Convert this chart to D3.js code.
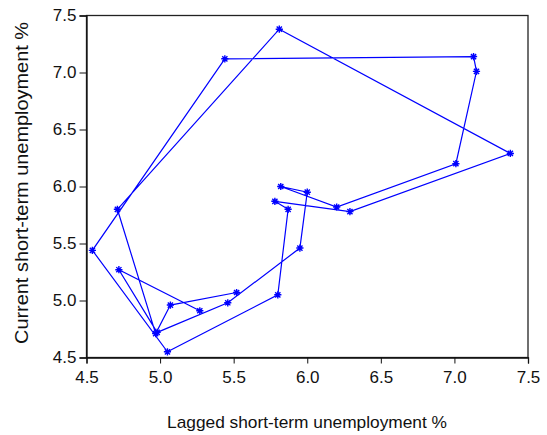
<!DOCTYPE html>
<html>
<head>
<meta charset="utf-8">
<script src="https://cdn.jsdelivr.net/npm/d3@7"></script>
<style>
html,body{margin:0;padding:0;background:#fff;}
svg{display:block;font-family:Arial,"Liberation Sans",sans-serif;}
</style>
</head>
<body>
<svg id="chart" width="547" height="435"></svg>
<script>
// Time-ordered observations: lagged (x) vs current (y) short-term unemployment %
const lagged  = [5.52,5.07,4.97,4.71,5.81,7.38,6.29,5.78,5.87,5.80,5.05,4.54,5.44,7.13,7.15,7.01,6.20,5.82,6.00,5.95,5.46,4.98,4.72,5.27];
const current = [5.07,4.96,4.71,5.80,7.38,6.29,5.78,5.87,5.80,5.05,4.55,5.44,7.12,7.14,7.01,6.20,5.82,6.00,5.95,5.46,4.98,4.72,5.27,4.91];
const xTicks = [4.5,5.0,5.5,6.0,6.5,7.0,7.5];
const yTicks = [4.5,5.0,5.5,6.0,6.5,7.0,7.5];
const xLabel = "Lagged short-term unemployment %";
const yLabel = "Current short-term unemployment %";

const data = lagged.map((v,i)=>({x:v,y:current[i]}));
const svg = d3.select("#chart");
const L=86.5, R=528, T=15.5, B=357.5;
const x = d3.scaleLinear().domain([4.5,7.5]).range([L,R]);
const y = d3.scaleLinear().domain([4.5,7.5]).range([B,T]);

// frame
svg.append("rect").attr("x",L).attr("y",T).attr("width",R-L).attr("height",B-T)
  .attr("fill","none").attr("stroke","#222").attr("stroke-width",1.3);

const fmt = d3.format(".1f");
const xAxis = svg.append("g").attr("transform",`translate(0,${B})`)
  .call(d3.axisBottom(x).tickValues(xTicks).tickFormat(fmt).tickSize(6).tickPadding(7));
const yAxis = svg.append("g").attr("transform",`translate(${L},0)`)
  .call(d3.axisLeft(y).tickValues(yTicks).tickFormat(fmt).tickSize(7).tickPadding(3));
[xAxis,yAxis].forEach(g=>{
  g.select(".domain").attr("stroke","#111").attr("stroke-width",1.3);
  g.selectAll(".tick line").attr("stroke","#111").attr("stroke-width",1);
  g.selectAll(".tick text").attr("font-size",17).attr("fill","#111")
   .attr("font-family","Arial, 'Liberation Sans', sans-serif");
});

// path
svg.append("path").datum(data)
  .attr("d",d3.line().x(d=>x(d.x)).y(d=>y(d.y)))
  .attr("fill","none").attr("stroke","#0000ff").attr("stroke-width",1.2);

// asterisk markers
const r=3.6;
const star = `M${-r},0L${r},0M0,${-r}L0,${r}M${-r*0.72},${-r*0.72}L${r*0.72},${r*0.72}M${-r*0.72},${r*0.72}L${r*0.72},${-r*0.72}`;
svg.append("g").selectAll("path").data(data).join("path")
  .attr("transform",d=>`translate(${x(d.x)},${y(d.y)})`)
  .attr("d",star).attr("stroke","#0000ff").attr("stroke-width",1.4).attr("fill","none");

// labels
svg.append("text").attr("x",307).attr("y",428)
  .attr("text-anchor","middle").attr("font-size",17).attr("fill","#111")
  .attr("textLength",280).attr("lengthAdjust","spacingAndGlyphs").text(xLabel);
svg.append("text").attr("transform",`translate(28,183) rotate(-90)`)
  .attr("text-anchor","middle").attr("font-size",19).attr("fill","#111")
  .attr("textLength",322).attr("lengthAdjust","spacingAndGlyphs").text(yLabel);
</script>
</body>
</html>
